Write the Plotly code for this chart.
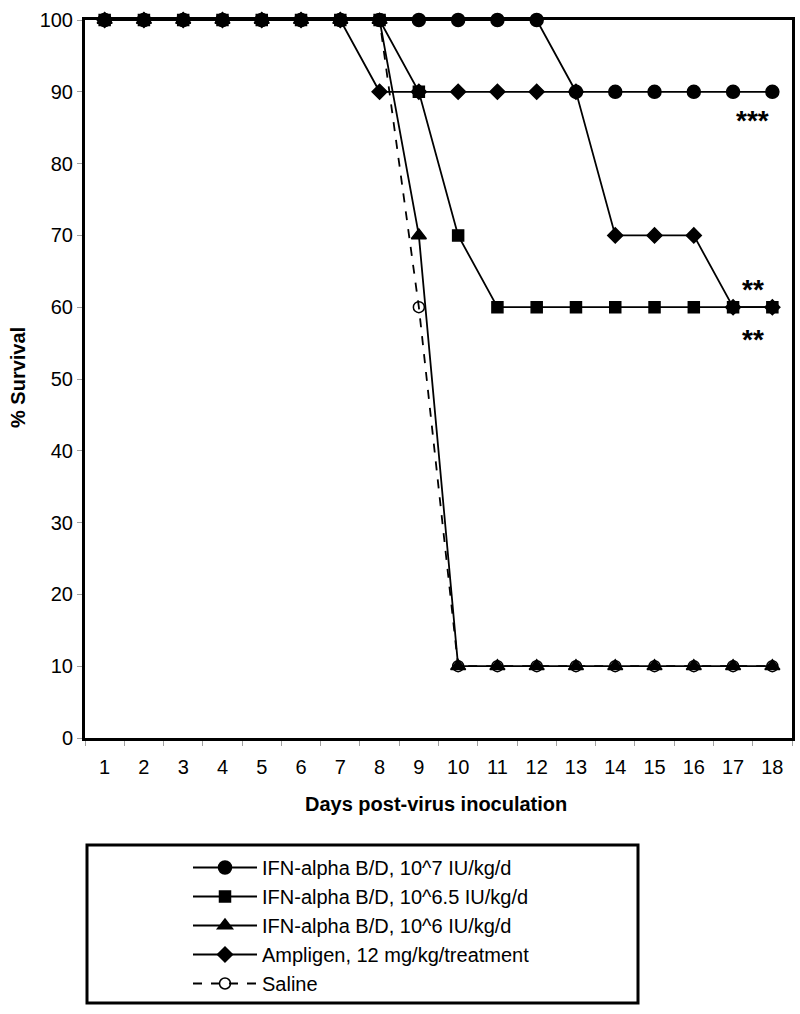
import plotly.graph_objects as go

days = [str(d) for d in range(1, 19)]

ifn_7 = [100, 100, 100, 100, 100, 100, 100, 100, 100, 100, 100, 100, 90, 90, 90, 90, 90, 90]
ifn_65 = [100, 100, 100, 100, 100, 100, 100, 100, 90, 70, 60, 60, 60, 60, 60, 60, 60, 60]
ifn_6 = [100, 100, 100, 100, 100, 100, 100, 100, 70, 10, 10, 10, 10, 10, 10, 10, 10, 10]
ampligen = [100, 100, 100, 100, 100, 100, 100, 90, 90, 90, 90, 90, 90, 70, 70, 70, 60, 60]
saline = [100, 100, 100, 100, 100, 100, 100, 100, 60, 10, 10, 10, 10, 10, 10, 10, 10, 10]

names = [
    "IFN-alpha B/D, 10^7 IU/kg/d",
    "IFN-alpha B/D, 10^6.5 IU/kg/d",
    "IFN-alpha B/D, 10^6 IU/kg/d",
    "Ampligen, 12 mg/kg/treatment",
    "Saline",
]

sig_labels = ["***", "**", "**"]
sig_x = [16.5, 16.5, 16.5]
sig_y = [86.0, 62.4, 55.5]

FONT = "Liberation Sans, Arial, sans-serif"
GRAY = "#a0a0a0"

fig = go.Figure()
series = [
    (ifn_7, "circle", 13, "solid"),
    (ifn_65, "square", 11, "solid"),
    (ifn_6, "triangle-up", 13, "solid"),
    (ampligen, "diamond", 11.5, "solid"),
    (saline, "circle-open", 11, "dash"),
]
for i, ((vals, sym, size, dash), name) in enumerate(zip(series, names)):
    fig.add_trace(go.Scatter(
        x=days, y=vals, name=name, mode="lines+markers",
        legendgroup=f"g{i}", cliponaxis=False,
        line=dict(color="black", width=1.8, dash=dash),
        marker=dict(symbol=sym, size=size, color="black",
                    line=dict(color="black", width=1.5)),
    ))

for lab, xx, yy in zip(sig_labels, sig_x, sig_y):
    fig.add_annotation(x=xx, y=yy, text=f"<b>{lab}</b>", showarrow=False,
                       font=dict(family=FONT, size=28, color="black"),
                       xref="x", yref="y")

PW, PH = 707, 718
L, T = 85, 20

# axis titles
fig.add_annotation(text="<b>% Survival</b>", xref="paper", yref="paper",
                   x=(18 - L) / PW, y=(T + PH - 378) / PH, showarrow=False,
                   textangle=-90, font=dict(family=FONT, size=20, color="black"),
                   xanchor="center", yanchor="middle")
fig.add_annotation(text="<b>Days post-virus inoculation</b>", xref="paper", yref="paper",
                   x=(436 - L) / PW, y=(T + PH - 804) / PH, showarrow=False,
                   font=dict(family=FONT, size=20, color="black"),
                   xanchor="center", yanchor="middle")

fig.update_layout(
    width=800, height=1014,
    margin=dict(l=L, r=800 - L - PW, t=T, b=1014 - T - PH, autoexpand=False),
    paper_bgcolor="white", plot_bgcolor="white",
    font=dict(family=FONT, size=20, color="black"),
    showlegend=True,
    legend=dict(
        x=(188 - L) / PW, y=(T + PH - 848) / PH, xanchor="left", yanchor="top",
        font=dict(family=FONT, size=20, color="black"),
        bgcolor="rgba(0,0,0,0)", borderwidth=0,
        tracegroupgap=0, itemwidth=64,
    ),
    xaxis=dict(
        type="category", tickson="boundaries", range=[-0.5, 17.5],
        showline=True, linecolor="black", linewidth=3, mirror=True,
        ticks="outside", ticklen=5, tickcolor=GRAY, tickwidth=1,
        showgrid=False, zeroline=False, automargin=False,
        layer="below traces", ticklabelstandoff=9,
        tickfont=dict(family=FONT, size=20),
    ),
    yaxis=dict(
        range=[0, 100], dtick=10, autorange=False,
        showline=True, linecolor="black", linewidth=3, mirror=True,
        ticks="outside", ticklen=5, tickcolor=GRAY, tickwidth=1,
        showgrid=False, zeroline=False, automargin=False,
        layer="below traces",
        tickfont=dict(family=FONT, size=20),
    ),
    shapes=[dict(type="rect", xref="paper", yref="paper",
                 x0=(87 - L) / PW, x1=(638 - L) / PW,
                 y0=(T + PH - 1003) / PH, y1=(T + PH - 845) / PH,
                 line=dict(color="black", width=3), fillcolor="rgba(0,0,0,0)")],
)

fig.write_html("out.html", config={"displayModeBar": False},
               post_script="document.body.style.margin='0';document.body.style.padding='0';")
